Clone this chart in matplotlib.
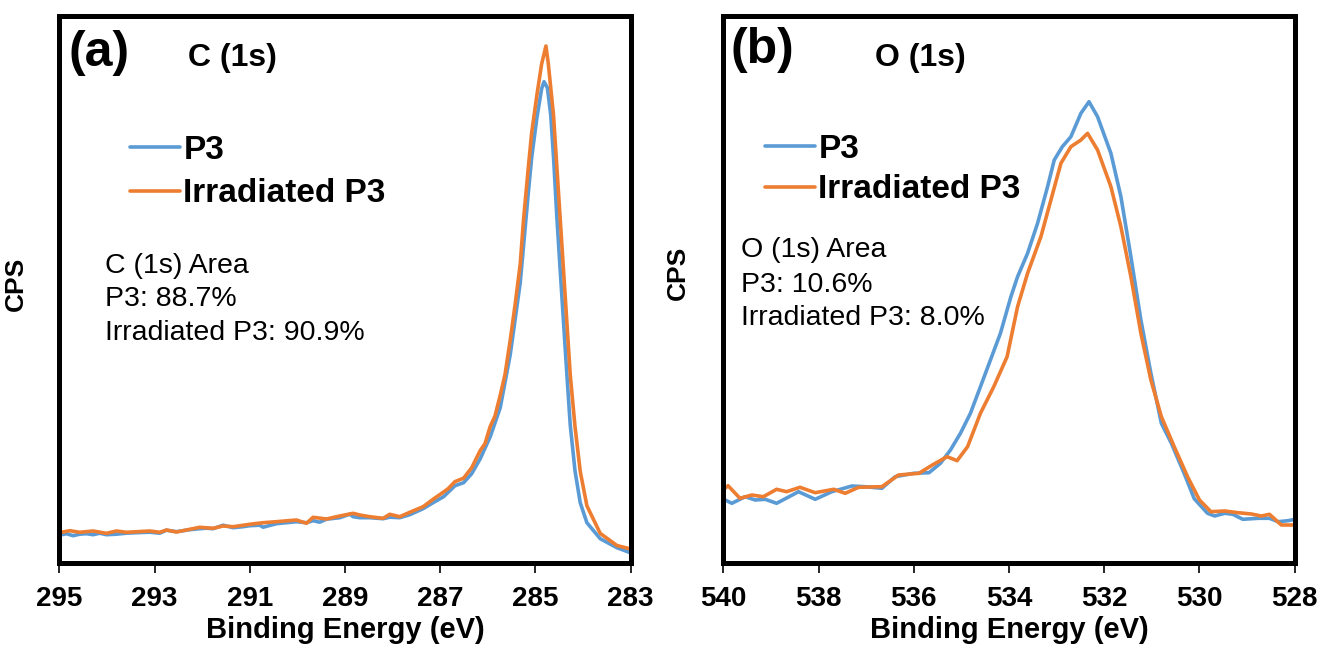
import matplotlib
matplotlib.use("Agg")
import matplotlib.pyplot as plt

plt.rcParams['font.family'] = ['Liberation Sans', 'DejaVu Sans']

# ---------------- data (C 1s) ----------------
c_energy_p3 = [295.00, 294.85, 294.71, 294.57, 294.43, 294.29, 294.15, 294.01, 293.80, 293.59,
               293.38, 293.10, 292.89, 292.75, 292.54, 292.26, 292.05, 291.91, 291.77, 291.56,
               291.35, 291.14, 291.00, 290.79, 290.72, 290.44, 290.23, 290.02, 289.81, 289.67,
               289.53, 289.39, 289.11, 288.90, 288.83, 288.69, 288.48, 288.20, 288.06, 287.85,
               287.64, 287.36, 287.15, 286.93, 286.69, 286.51, 286.34, 286.16, 285.95, 285.74,
               285.53, 285.32, 285.15, 285.08, 284.97, 284.87, 284.82, 284.75, 284.68, 284.62,
               284.55, 284.48, 284.41, 284.34, 284.27, 284.17, 284.06, 283.92, 283.64, 283.29,
               283.01]
c_cps_p3 = [27.5, 29.0, 27.0, 28.5, 29.0, 28.0, 29.5, 28.0, 28.5, 29.5,
            30.0, 30.5, 29.5, 32.5, 31.0, 33.0, 34.0, 34.5, 34.0, 37.5,
            35.0, 36.0, 37.0, 37.5, 35.5, 39.0, 40.0, 41.0, 40.0, 42.0,
            40.5, 43.5, 45.0, 48.5, 46.0, 45.0, 45.0, 44.0, 45.5, 45.0,
            48.0, 54.0, 60.0, 66.0, 77.0, 80.0, 89.0, 104.0, 126.0, 155.0,
            208.0, 280.0, 370.0, 405.0, 445.0, 474.0, 481.0, 475.0, 448.0, 405.0,
            345.0, 292.0, 240.0, 188.0, 138.0, 92.0, 60.0, 40.0, 24.0, 15.0,
            10.0]

c_energy_irr = [295.00, 294.78, 294.57, 294.29, 294.01, 293.80, 293.59, 293.10, 292.89, 292.75,
                292.54, 292.26, 292.05, 291.77, 291.56, 291.35, 291.00, 290.72, 290.44, 290.02,
                289.81, 289.67, 289.39, 289.11, 288.83, 288.69, 288.48, 288.20, 288.06, 287.85,
                287.64, 287.36, 287.15, 286.93, 286.83, 286.69, 286.51, 286.34, 286.16, 286.06,
                285.95, 285.85, 285.74, 285.64, 285.53, 285.43, 285.32, 285.25, 285.15, 285.08,
                284.97, 284.87, 284.78, 284.73, 284.62, 284.55, 284.48, 284.41, 284.34, 284.27,
                284.17, 284.06, 283.92, 283.64, 283.29, 283.01]
c_cps_irr = [30.0, 32.0, 30.4, 31.7, 29.4, 31.7, 30.4, 31.7, 30.4, 32.7,
             30.7, 33.4, 35.4, 34.4, 36.7, 36.0, 38.4, 40.0, 41.0, 42.7,
             39.4, 45.4, 43.7, 46.7, 49.4, 47.7, 46.0, 44.4, 48.4, 46.0,
             50.4, 56.0, 63.4, 70.7, 74.2, 81.1, 84.5, 94.9, 112.2, 119.1,
             136.3, 146.7, 167.4, 188.1, 222.6, 257.1, 298.6, 343.4, 395.2, 429.7,
             467.7, 498.8, 516.7, 498.8, 447.0, 395.2, 343.4, 291.7, 239.9, 188.1,
             136.3, 91.4, 56.9, 29.3, 17.2, 13.8]

# ---------------- data (O 1s) ----------------
o_energy_p3 = [540.00, 539.96, 539.82, 539.54, 539.33, 539.12, 538.88, 538.42, 538.07, 537.72,
               537.30, 537.02, 536.67, 536.39, 536.00, 535.68, 535.44, 535.23, 535.02, 534.81,
               534.60, 534.39, 534.18, 533.96, 533.82, 533.61, 533.40, 533.19, 533.05, 532.88,
               532.70, 532.49, 532.32, 532.14, 531.86, 531.65, 531.44, 531.23, 531.02, 530.80,
               530.59, 530.31, 530.11, 529.83, 529.68, 529.47, 529.30, 529.09, 528.77, 528.53,
               528.35, 528.14, 528.00]
o_cps_p3 = [64.0, 62.7, 59.4, 66.0, 62.7, 63.4, 59.4, 71.0, 63.4, 71.0,
            76.7, 76.0, 74.4, 86.0, 89.4, 90.0, 99.4, 112.7, 129.4, 149.4,
            176.0, 202.7, 229.4, 266.0, 286.0, 309.4, 339.4, 376.0, 402.7, 416.0,
            426.0, 449.4, 461.0, 446.0, 409.4, 366.0, 306.0, 242.7, 189.4, 139.4,
            119.4, 88.0, 64.0, 49.4, 46.7, 49.4, 48.4, 43.4, 44.4, 44.4,
            41.0, 42.0, 43.4]

o_energy_irr = [540.00, 539.90, 539.65, 539.40, 539.16, 538.88, 538.67, 538.39, 538.07, 537.68,
                537.44, 537.16, 536.67, 536.32, 535.89, 535.61, 535.30, 535.09, 534.87, 534.60,
                534.32, 534.04, 533.82, 533.61, 533.33, 533.12, 532.91, 532.70, 532.49, 532.35,
                532.14, 531.86, 531.65, 531.44, 531.23, 531.02, 530.80, 530.53, 530.25, 530.00,
                529.76, 529.47, 529.19, 528.91, 528.70, 528.53, 528.28, 528.00]
o_cps_irr = [73.0, 77.0, 64.4, 67.7, 66.0, 73.4, 71.0, 75.4, 70.0, 73.4,
             69.4, 75.4, 76.0, 87.7, 89.4, 97.7, 106.0, 102.0, 116.0, 149.4,
             176.0, 206.0, 256.0, 289.4, 326.0, 362.7, 399.4, 416.0, 422.7, 429.4,
             412.7, 376.0, 336.0, 286.0, 229.4, 182.7, 146.0, 116.0, 86.0, 62.7,
             51.0, 51.7, 50.0, 48.7, 46.7, 48.4, 37.7, 37.7]

c_ticks = [295, 293, 291, 289, 287, 285, 283]
o_ticks = [540, 538, 536, 534, 532, 530, 528]
series_labels = ["P3", "Irradiated P3"]
panel_tags = ["(a)", "(b)"]
panel_titles = ["C (1s)", "O (1s)"]
area_notes = [["C (1s) Area", "P3: 88.7%", "Irradiated P3: 90.9%"],
              ["O (1s) Area", "P3: 10.6%", "Irradiated P3: 8.0%"]]

BLUE = "#5B9BD5"
ORANGE = "#ED7D31"
W, H = 1323, 648

fig = plt.figure(figsize=(W / 100, H / 100), dpi=100)

def px_rect(x0, y0, x1, y1):
    return [x0 / W, 1 - y1 / H, (x1 - x0) / W, (y1 - y0) / H]

ax1 = fig.add_axes(px_rect(59.3, 15.7, 630.7, 562.7))
ax2 = fig.add_axes(px_rect(723.3, 15.7, 1294.7, 562.7))

panels = [
    (ax1, c_energy_p3, c_cps_p3, c_energy_irr, c_cps_irr, (295, 283), c_ticks),
    (ax2, o_energy_p3, o_cps_p3, o_energy_irr, o_cps_irr, (540, 528), o_ticks),
]

for ax, e1, v1, e2, v2, xlim, ticks in panels:
    ax.plot(e1, v1, color=BLUE, lw=2.6, label=series_labels[0],
            solid_joinstyle='round', solid_capstyle='round')
    ax.plot(e2, v2, color=ORANGE, lw=2.6, label=series_labels[1],
            solid_joinstyle='round', solid_capstyle='round')
    ax.set_xlim(*xlim)
    ax.set_ylim(0, 547)
    ax.set_xticks(ticks)
    ax.set_xticklabels([str(t) for t in ticks], fontsize=20, fontweight='bold')
    ax.set_yticks([])
    ax.tick_params(axis='x', direction='out', length=7, width=1.2, pad=10, color='black')
    for sp in ax.spines.values():
        sp.set_linewidth(3.6)
        sp.set_color('black')
        sp.set_capstyle('projecting')
    ax.set_xlabel("Binding Energy (eV)", fontsize=21, fontweight='bold', labelpad=3)
    ax.set_ylabel("CPS", fontsize=19, fontweight='bold')

ax1.yaxis.set_label_coords(-0.055, 0.51)
ax2.yaxis.set_label_coords(-0.058, 0.53)

def ftext(x, y, s, **kw):
    fig.text(x / W, 1 - y / H, s, **kw)

# panel tags and titles
ftext(99, 53, panel_tags[0], fontsize=36, fontweight='bold', ha='center', va='center')
ftext(232, 58, panel_titles[0], fontsize=23, fontweight='bold', ha='center', va='center')
ftext(762, 50, panel_tags[1], fontsize=36, fontweight='bold', ha='center', va='center')
ftext(920, 58, panel_titles[1], fontsize=23, fontweight='bold', ha='center', va='center')

# area notes
for (x0, ys), lines in zip([(105, [266, 299, 333]), (741, [250, 285, 318])], area_notes):
    for y, s in zip(ys, lines):
        ftext(x0, y, s, fontsize=20.5, ha='left', va='center')

# legends
for ax, (lx, ly, sp) in [(ax1, (130, 135, 0.37)), (ax2, (765, 134, 0.28))]:
    ax.legend(loc='upper left', bbox_to_anchor=(lx / W, 1 - ly / H),
              bbox_transform=fig.transFigure, frameon=False,
              prop={'weight': 'bold', 'size': 24}, handlelength=1.5,
              handletextpad=0.1, labelspacing=sp, borderpad=0, borderaxespad=0)

fig.savefig("out.png", dpi=100)
